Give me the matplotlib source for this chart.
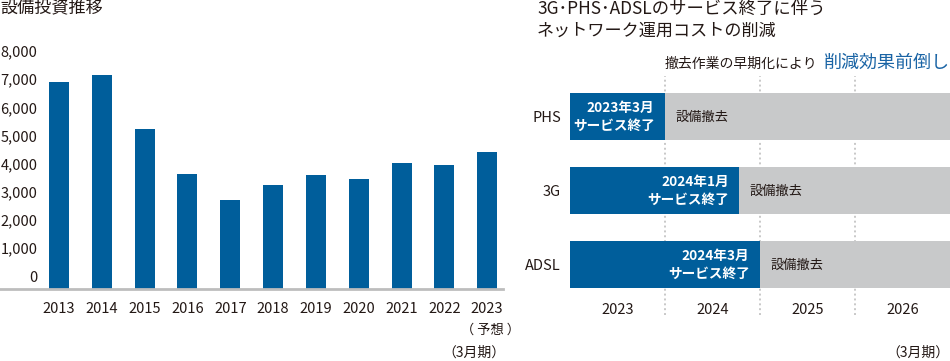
import matplotlib.pyplot as plt
import matplotlib.transforms as mtransforms

plt.rcParams['font.family'] = ['Noto Sans CJK JP', 'DejaVu Sans']

# left: capex by fiscal year (億円, 3月期)
years = ['2013', '2014', '2015', '2016', '2017', '2018', '2019', '2020', '2021', '2022', '2023']
capex = [6960, 7210, 5290, 3690, 2760, 3300, 3650, 3510, 4080, 4010, 4470]
y_ticks = [0, 1000, 2000, 3000, 4000, 5000, 6000, 7000, 8000]

# right: service end (fiscal years from start of FY2023 column)
services = ['PHS', '3G', 'ADSL']
service_end = [1.0, 1.78, 2.0]
end_labels = ['2023年3月\nサービス終了', '2024年1月\nサービス終了', '2024年3月\nサービス終了']
fy_labels = ['2023', '2024', '2025', '2026']

BLUE = '#005e9b'
GRAY = '#c8c9ca'
TXT = '#231815'
W, H = 950, 361

fig = plt.figure(figsize=(W / 100, H / 100), dpi=100)


def px_axes(x0, y0, x1, y1):
    # pixel box (top-left origin) -> figure axes
    return fig.add_axes([x0 / W, 1 - y1 / H, (x1 - x0) / W, (y1 - y0) / H])


# ---------------- left chart ----------------
ax = px_axes(0, 40, 503, 289)
idx = list(range(len(years)))
floor = -400
ax.bar(idx, [v - floor for v in capex], bottom=floor, width=0.467, color=BLUE, zorder=2)
ax.set_xlim(-1.378, 10.37)
ax.set_ylim(floor, 8450)
for s in ['top', 'right', 'left']:
    ax.spines[s].set_visible(False)
ax.spines['bottom'].set_color('#bdbdbd')
ax.spines['bottom'].set_linewidth(2)
ax.set_yticks([])
ax.set_xticks(idx)
ax.set_xticklabels(years, fontsize=10.5, color=TXT)
ax.tick_params(axis='x', length=0, pad=9.5)
for t in y_ticks:
    ax.text(-0.5, t, f'{t:,}', ha='right', va='center', fontsize=10.5, color=TXT)
ax.text(idx[-1] + 0.07, -0.165, '（ 予想 ）', transform=mtransforms.blended_transform_factory(ax.transData, ax.transAxes),
        ha='center', va='center', fontsize=9.5, color=TXT)
fig.text(505 / W, 1 - 353 / H, '（3月期）', ha='right', va='center', fontsize=10, color=TXT)
fig.text(0, 1 - 8 / H, '設備投資推移', ha='left', va='center', fontsize=12.3, color=TXT)

# ---------------- right chart ----------------
bx = px_axes(570, 76, 950, 315)
rows = list(range(len(services)))
bx.set_xlim(0, 4)
bx.set_ylim(2.676, -0.554)
for x in [1, 2, 3]:
    bx.axvline(x, color='#c8c8c8', linestyle=(0, (1, 1.5)), lw=1.4, zorder=0)
bx.barh(rows, service_end, height=0.635, color=BLUE, zorder=2)
bx.barh(rows, [4 - e for e in service_end], left=service_end, height=0.635, color=GRAY, zorder=2)
for r, e, lab in zip(rows, service_end, end_labels):
    bx.annotate(lab, xy=(e, r), xytext=(-7.5, 0), textcoords='offset points', ha='right', va='center',
                fontsize=9.8, color='white', fontweight='bold', linespacing=1.3, zorder=3)
    bx.annotate('設備撤去', xy=(e, r), xytext=(7.5, 0), textcoords='offset points', ha='left', va='center',
                fontsize=9.5, color=TXT, zorder=3)
for s in bx.spines.values():
    s.set_visible(False)
bx.set_xticks([])
bx.set_yticks(rows)
bx.set_yticklabels(services, fontsize=10.5, color=TXT)
bx.tick_params(axis='y', length=0, pad=6.5)
tr = mtransforms.blended_transform_factory(bx.transData, bx.transAxes)
for i, lab in enumerate(fy_labels):
    bx.text(i + 0.5, 0.02, lab, transform=tr, ha='center', va='center', fontsize=10.5, color=TXT)

fig.text(537 / W, 1 - 8.5 / H, '3G･PHS･ADSLのサービス終了に伴う', ha='left', va='center', fontsize=12.5, color=TXT)
fig.text(537 / W, 1 - 31 / H, 'ネットワーク運用コストの削減', ha='left', va='center', fontsize=12.3, color=TXT)
fig.text(665 / W, 1 - 64 / H, '撤去作業の早期化により', ha='left', va='center', fontsize=10, color=TXT)
fig.text(950 / W, 1 - 63 / H, '削減効果前倒し', ha='right', va='center', fontsize=13, color='#1a64a5')
fig.text(950 / W, 1 - 353 / H, '（3月期）', ha='right', va='center', fontsize=10, color=TXT)

fig.savefig('out.png', dpi=100)
